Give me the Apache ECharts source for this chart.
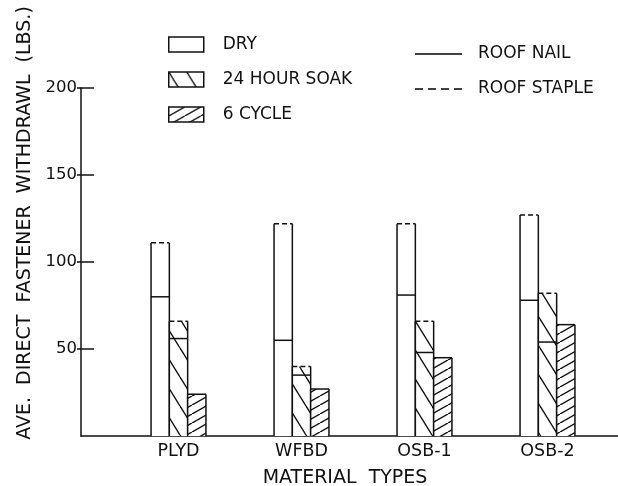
<!DOCTYPE html>
<html>
<head>
<meta charset="utf-8">
<script src="https://cdn.jsdelivr.net/npm/echarts@6/dist/echarts.min.js"></script>
<style>html,body{margin:0;padding:0;background:#fff}#c{width:618px;height:486px}</style>
</head>
<body>
<div id="c"></div>
<script>
// ---- data ----
const categories = ['PLYD', 'WFBD', 'OSB-1', 'OSB-2'];
const conditions = ['DRY', '24 HOUR SOAK', '6 CYCLE'];
const fasteners = ['ROOF NAIL', 'ROOF STAPLE'];
const yTicks = [0, 50, 100, 150, 200];
const dryNail = [80, 55, 81, 78];
const dryStaple = [111, 122, 122, 127];
const soakNail = [56, 35, 48, 54];
const soakStaple = [66, 40, 66, 82];
const cycleNail = [24, 27, 45, 64];
const cycleStaple = [null, null, null, null];

// ---- styling ----
const INK = '#111';
const FONT = 'DejaVu Sans';
function makePattern(w, h, draw) {
  const cv = document.createElement('canvas');
  cv.width = w; cv.height = h;
  const ctx = cv.getContext('2d');
  ctx.fillStyle = '#fff'; ctx.fillRect(0, 0, w, h);
  ctx.strokeStyle = INK; ctx.lineWidth = 1.4;
  draw(ctx, w, h);
  return { image: cv, repeat: 'repeat' };
}
const soakPattern = makePattern(18, 29, (ctx, w, h) => {
  for (let k = -1; k <= 1; k++) {
    ctx.beginPath(); ctx.moveTo(k * w, 0); ctx.lineTo(k * w + w, h); ctx.stroke();
  }
});
const cyclePattern = makePattern(16, 9, (ctx, w, h) => {
  for (let k = -1; k <= 1; k++) {
    ctx.beginPath(); ctx.moveTo(k * w, h); ctx.lineTo(k * w + w, 0); ctx.stroke();
  }
});
const fills = ['#fff', soakPattern, cyclePattern];
const nails = [dryNail, soakNail, cycleNail];
const staples = [dryStaple, soakStaple, cycleStaple];
const BAR_W = 18.3;

function makeRender(k) {
  return function (params, api) {
    const ci = api.value(0);
    const nail = api.value(1);
    const staple = api.value(2);
    const hasStaple = !isNaN(staple) && staple !== null;
    const top = hasStaple ? Math.max(nail, staple) : nail;
    const base = api.coord([ci, 0]);
    const y0 = base[1];
    const yTop = api.coord([ci, top])[1];
    const yNail = api.coord([ci, nail])[1];
    const x0 = base[0] + (k - 1.5) * BAR_W;
    const x1 = x0 + BAR_W;
    const line = (a, b, c, d, dash) => ({
      type: 'line', shape: { x1: a, y1: b, x2: c, y2: d },
      style: { stroke: INK, lineWidth: 1.5, lineDash: dash || null }
    });
    const children = [
      { type: 'rect', shape: { x: x0, y: yTop, width: BAR_W, height: y0 - yTop }, style: { fill: fills[k] } },
      line(x0, y0, x0, yTop),
      line(x1, y0, x1, yTop),
      line(x0, yNail, x1, yNail)
    ];
    if (hasStaple) {
      const yS = api.coord([ci, staple])[1];
      children.push(line(x0, yS, x1, yS, [5, 3]));
    }
    return { type: 'group', children };
  };
}

const customSeries = conditions.map((name, k) => ({
  name, type: 'custom', xAxisIndex: 0, yAxisIndex: 0,
  renderItem: makeRender(k),
  itemStyle: { color: k === 0 ? '#fff' : fills[k], borderColor: INK, borderWidth: 1.5 },
  encode: { x: 0, y: [1, 2] },
  data: categories.map((c, i) => [i, nails[k][i], staples[k][i] === null ? '-' : staples[k][i]]),
  silent: true, animation: false
}));
// legend-only entries for fastener line styles
const legendLineIcons = [
  'path://M0,0h47v2h-47z',
  'path://M0,0h8v2h-8zM13,0h8v2h-8zM26,0h8v2h-8zM39,0h8v2h-8z'
];
const fastenerSeries = fasteners.map((name) => ({
  name, type: 'scatter', xAxisIndex: 0, yAxisIndex: 0, data: [],
  itemStyle: { color: INK }
}));

const txt = (s) => ({ color: INK, fontFamily: FONT, fontSize: s });
const tickVals = yTicks.slice(1);
const option = {
  backgroundColor: '#fff',
  animation: false,
  textStyle: { fontFamily: FONT, color: INK },
  grid: [
    { left: 117, right: 9, top: 88, bottom: 50, outerBoundsMode: 'none', containLabel: false },
    { left: 81, right: 0, top: 88, bottom: 50, outerBoundsMode: 'none', containLabel: false }
  ],
  xAxis: [
    {
      type: 'category', gridIndex: 0, data: categories,
      axisLine: { show: false }, axisTick: { show: false },
      axisLabel: Object.assign({ margin: 6 }, txt(17.5)),
      name: 'MATERIAL  TYPES', nameLocation: 'middle', nameGap: 33,
      nameTextStyle: Object.assign({ padding: [0, 36, 0, 0] }, txt(19))
    },
    {
      type: 'value', gridIndex: 1, min: 0, max: 1,
      axisLine: { show: true, lineStyle: { color: INK, width: 1.5 } },
      axisTick: { show: false }, axisLabel: { show: false }, splitLine: { show: false }
    }
  ],
  yAxis: [
    {
      type: 'value', gridIndex: 0, position: 'left', offset: 36,
      min: yTicks[0], max: yTicks[yTicks.length - 1], interval: yTicks[1] - yTicks[0],
      axisLine: { show: true, lineStyle: { color: INK, width: 1.5 } },
      axisTick: { show: true, inside: true, length: 13, customValues: tickVals, lineStyle: { color: INK, width: 1.5 } },
      axisLabel: Object.assign({ showMinLabel: false, margin: 4 }, txt(16.5)),
      splitLine: { show: false },
      name: 'AVE.  DIRECT  FASTENER  WITHDRAWL  (LBS.)', nameLocation: 'middle', nameGap: 46,
      nameTextStyle: Object.assign({ padding: [0, 0, 0, 78] }, txt(19))
    },
    {
      type: 'value', gridIndex: 0, position: 'left', offset: 36,
      min: yTicks[0], max: yTicks[yTicks.length - 1], interval: yTicks[1] - yTicks[0],
      axisLine: { show: false },
      axisTick: { show: true, inside: false, length: 4, customValues: tickVals, lineStyle: { color: INK, width: 1.5 } },
      axisLabel: { show: false }, splitLine: { show: false }
    },
    { type: 'value', gridIndex: 1, show: false, min: 0, max: 1 }
  ],
  legend: [
    {
      orient: 'vertical', left: 168, top: 36, padding: 0,
      itemWidth: 35, itemHeight: 15, itemGap: 18,
      icon: 'rect', selectedMode: false,
      textStyle: Object.assign({ padding: [0, 0, 0, 14], lineHeight: 17 }, txt(17)),
      data: conditions.map((n, k) => ({
        name: n, icon: 'rect',
        itemStyle: { color: fills[k], borderColor: INK, borderWidth: 1.5 }
      }))
    },
    {
      orient: 'vertical', left: 415, top: 45.5, padding: 0,
      itemWidth: 47, itemHeight: 2, itemGap: 18,
      selectedMode: false,
      textStyle: Object.assign({ padding: [0, 0, 0, 11], lineHeight: 17 }, txt(17)),
      data: fasteners.map((n, j) => ({
        name: n, icon: legendLineIcons[j],
        itemStyle: { color: INK, borderWidth: 0 }
      }))
    }
  ],
  series: customSeries.concat(fastenerSeries)
};
const chart = echarts.init(document.getElementById('c'), null, { renderer: 'canvas' });
chart.setOption(option);
</script>
</body>
</html>
